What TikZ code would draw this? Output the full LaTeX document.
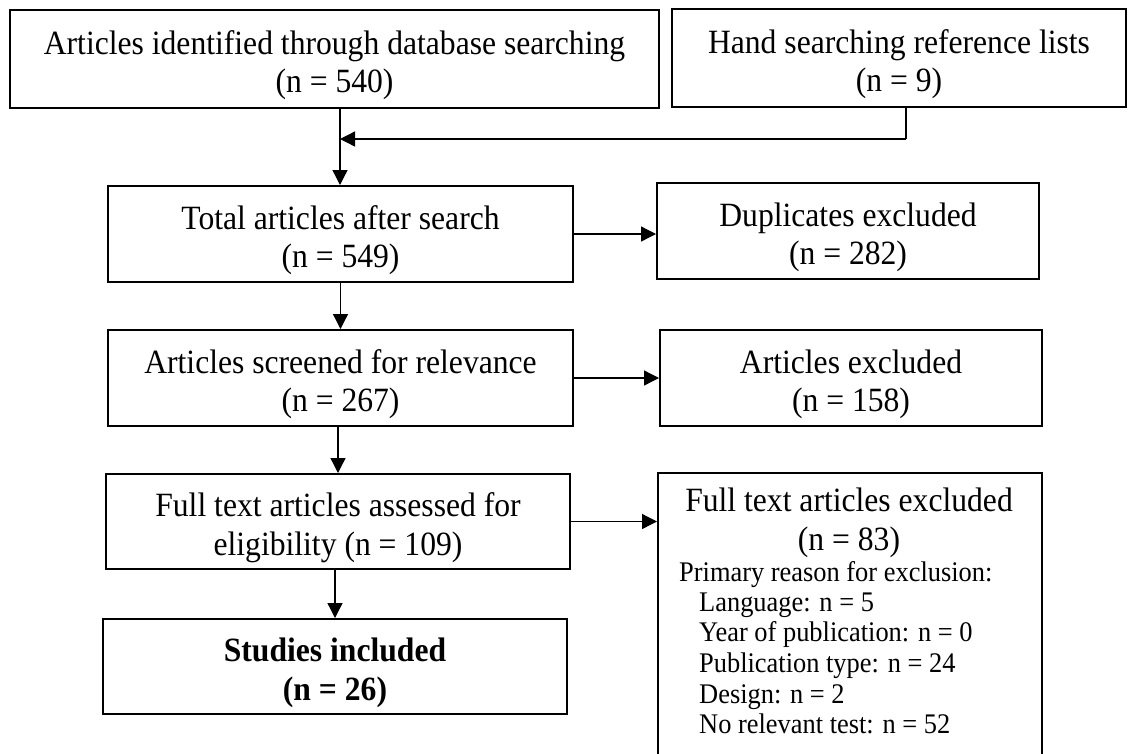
\documentclass[tikz,border=0pt]{standalone}
\usepackage{fontspec}
\setmainfont{Liberation Serif}[FakeStretch=0.93]
\usetikzlibrary{arrows.meta}
\newcommand\topstrutx{\rule{0pt}{36pt}}
\begin{document}
\begin{tikzpicture}[x=1pt,y=-1pt,
  mainfont/.style={font=\fontsize{34}{38.5}\selectfont},
  listfont/.style={font=\fontsize{28.4}{30.5}\selectfont},
  box/.style={draw=black, line width=2pt, anchor=north west, align=center, inner sep=0pt, mainfont},
  emptybox/.style={draw=black, line width=2pt, anchor=north west, inner sep=0pt},
  conn/.style={draw=black, line width=1.3pt, -{Triangle[length=15pt,width=15pt]}},
  plainline/.style={draw=black, line width=1.3pt}]
\useasboundingbox (0,0) rectangle (1132,753);
% boxes
\node[box, minimum width=649pt, minimum height=98pt] (A) at (9,9) {\topstrutx Articles identified through database searching\\(n = 540)};
\node[box, minimum width=454pt, minimum height=98pt] (B) at (671,8) {\topstrutx Hand searching reference lists\\(n = 9)};
\node[box, minimum width=465pt, minimum height=96pt] (C) at (107,185) {\topstrutx Total articles after search\\(n = 549)};
\node[box, minimum width=382pt, minimum height=96pt] (D) at (656,182) {\topstrutx Duplicates excluded\\(n = 282)};
\node[box, minimum width=465pt, minimum height=96pt] (E) at (107,329) {\topstrutx Articles screened for relevance\\(n = 267)};
\node[box, minimum width=382pt, minimum height=96pt] (F) at (659,329) {\topstrutx Articles excluded\\(n = 158)};
\node[box, minimum width=464pt, minimum height=95pt] (G) at (105,473) {\topstrutx Full text articles assessed for\\eligibility (n = 109)};
\node[emptybox, minimum width=384pt, minimum height=290pt] (H) at (657,472) {};
\node[box, minimum width=464pt, minimum height=95pt, font=\fontsize{34}{38.5}\selectfont\bfseries] (I) at (102,618) {\topstrutx Studies included\\(n = 26)};
% texts of box H
\node[mainfont, align=center] (Hhead) at (849,523) {Full text articles excluded\\(n = 83)};
\node[listfont, anchor=base west, inner sep=0pt] (H0) at (679,581) {Primary reason for exclusion:};
\node[listfont, anchor=base west, inner sep=0pt] (H1) at (699,611) {Language: n = 5};
\node[listfont, anchor=base west, inner sep=0pt] (H2) at (699,641) {Year of publication: n = 0};
\node[listfont, anchor=base west, inner sep=0pt] (H3) at (699,672) {Publication type: n = 24};
\node[listfont, anchor=base west, inner sep=0pt] (H4) at (699,703) {Design: n = 2};
\node[listfont, anchor=base west, inner sep=0pt] (H5) at (699,733) {No relevant test: n = 52};
% connectors
\coordinate (bend) at (906,139);
\coordinate (join) at (340,139);
\draw[plainline] (bend |- B.south) -- (bend);
\draw[conn] (bend) -- (join);
\draw[conn] (join |- A.south) -- (join |- C.north);
\draw[conn] (C.east) -- (C.east -| D.west);
\draw[conn] (C.south) -- (E.north);
\draw[conn] (E.east) -- (E.east -| F.west);
\draw[conn] (G.north |- E.south) -- (G.north);
\draw[conn] (G.east) -- (G.east -| H.west);
\draw[conn] (I.north |- G.south) -- (I.north);
\end{tikzpicture}
\end{document}
